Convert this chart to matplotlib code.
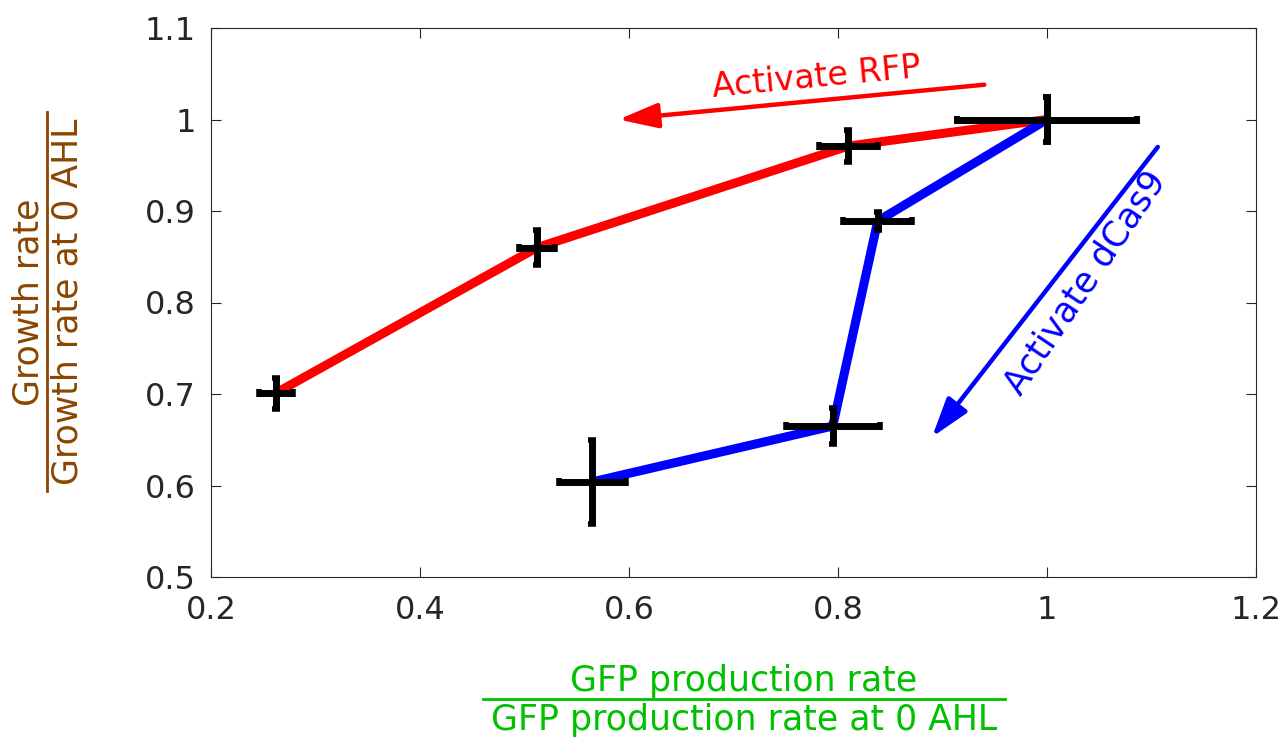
import matplotlib
matplotlib.use("Agg")
import matplotlib.pyplot as plt
from matplotlib.lines import Line2D

# RFP activation series
rfp_x = [0.262, 0.512, 0.810, 1.000]
rfp_y = [0.701, 0.860, 0.971, 1.000]
rfp_xerr = [0.016, 0.017, 0.028, 0.086]
rfp_yerr = [0.017, 0.019, 0.017, 0.025]

# dCas9 activation series
dcas_x = [1.000, 0.838, 0.795, 0.565]
dcas_y = [1.000, 0.889, 0.665, 0.604]
dcas_xerr = [0.086, 0.033, 0.045, 0.032]
dcas_yerr = [0.025, 0.010, 0.020, 0.046]

xticks = [0.2, 0.4, 0.6, 0.8, 1.0, 1.2]
yticks = [0.5, 0.6, 0.7, 0.8, 0.9, 1.0, 1.1]
xticklabels = ["0.2", "0.4", "0.6", "0.8", "1", "1.2"]
yticklabels = ["0.5", "0.6", "0.7", "0.8", "0.9", "1", "1.1"]

W, H = 1283, 740
fig = plt.figure(figsize=(W / 100, H / 100), dpi=100)
ax = fig.add_axes([211 / W, 1 - 577 / H, (1256 - 211) / W, (577 - 28) / H])

ax.plot(rfp_x, rfp_y, color="#ff0000", lw=6.5, solid_capstyle="butt", zorder=2)
ax.plot(dcas_x, dcas_y, color="#0000ff", lw=6.5, solid_capstyle="butt", zorder=2)

for xs, ys, xe, ye in [(rfp_x, rfp_y, rfp_xerr, rfp_yerr), (dcas_x, dcas_y, dcas_xerr, dcas_yerr)]:
    ax.errorbar(xs, ys, xerr=xe, yerr=ye, fmt="none", ecolor="black",
                elinewidth=5, capsize=3, capthick=4, zorder=3)

ax.set_xlim(0.2, 1.2)
ax.set_ylim(0.5, 1.1)
ax.set_xticks(xticks)
ax.set_xticklabels(xticklabels)
ax.set_yticks(yticks)
ax.set_yticklabels(yticklabels)
ax.tick_params(direction="in", length=7, width=0.8, labelsize=23, colors="#262626",
               top=True, right=True)
ax.tick_params(axis="x", pad=13)
ax.tick_params(axis="y", pad=11)
for s in ax.spines.values():
    s.set_color("#262626")
    s.set_linewidth(0.8)

# annotation arrows
arrow_style = "-|>,head_length=1.2,head_width=0.38"
ax.annotate("", xy=(0.59, 1.0), xytext=(0.94, 1.038),
            arrowprops=dict(arrowstyle=arrow_style, color="#ff0000", lw=3.2,
                            mutation_scale=20, shrinkA=0, shrinkB=0))
ax.text(0.779, 1.046, "Activate RFP", color="#ff0000", fontsize=24, rotation=5.5,
        ha="center", va="center")
ax.annotate("", xy=(0.89, 0.653), xytext=(1.106, 0.97),
            arrowprops=dict(arrowstyle=arrow_style, color="#0000ff", lw=3.2,
                            mutation_scale=20, shrinkA=0, shrinkB=0))
ax.text(1.037, 0.822, "Activate dCas9", color="#0000ff", fontsize=25, rotation=56,
        ha="center", va="center")

# x label as a fraction
green = "#00c000"
fig.text(744 / W, 1 - 681 / H, "GFP production rate", color=green, fontsize=25,
         ha="center", va="center")
fig.text(744 / W, 1 - 720 / H, "GFP production rate at 0 AHL", color=green, fontsize=25,
         ha="center", va="center")
fig.add_artist(Line2D([483 / W, 1005 / W], [1 - 699 / H, 1 - 699 / H], color=green, lw=2))

# y label as a fraction
brown = "#8b4500"
fig.text(29 / W, 1 - 302 / H, "Growth rate", color=brown, fontsize=25, rotation=90,
         ha="center", va="center")
fig.text(68 / W, 1 - 302 / H, "Growth rate at 0 AHL", color=brown, fontsize=25, rotation=90,
         ha="center", va="center")
fig.add_artist(Line2D([47 / W, 47 / W], [1 - 112 / H, 1 - 491 / H], color=brown, lw=2))

fig.savefig("out.png", dpi=100)
